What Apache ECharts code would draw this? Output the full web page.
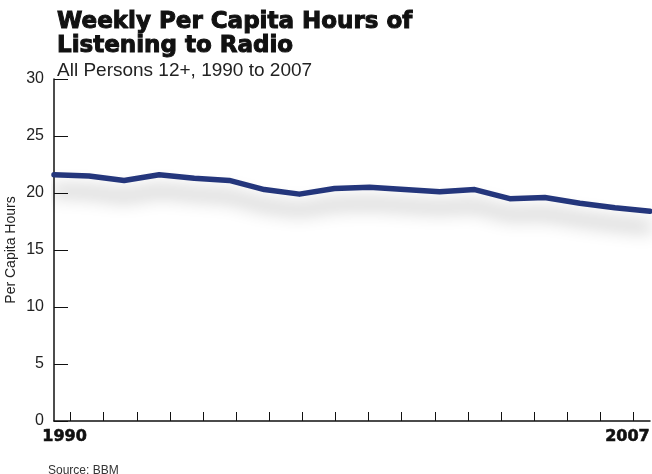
<!DOCTYPE html>
<html>
<head>
<meta charset="utf-8">
<script src="https://cdn.jsdelivr.net/npm/echarts@6/dist/echarts.min.js"></script>
<style>
  html, body { margin: 0; padding: 0; background: #fff; }
  #chart { width: 652px; height: 474px; }
</style>
</head>
<body>
<div id="chart"></div>
<script>
// Weekly per capita radio listening hours, all persons 12+
const years = ['1990','1991','1992','1993','1994','1995','1996','1997','1998',
               '1999','2000','2001','2002','2003','2004','2005','2006','2007'];
const hours = [21.6, 21.5, 21.1, 21.6, 21.3, 21.1, 20.3, 19.9, 20.4,
               20.5, 20.3, 20.1, 20.3, 19.5, 19.6, 19.1, 18.7, 18.4];
const yTicks = { min: 0, max: 30, step: 5 };
const shownYearLabels = ['1990', '2007'];

const chart = echarts.init(document.getElementById('chart'));

chart.setOption({
  backgroundColor: '#ffffff',
  animation: false,
  title: [
    {
      text: 'Weekly Per Capita Hours of\nListening to Radio',
      left: 52, top: 5,
      textStyle: {
        fontFamily: 'DejaVu Sans', fontWeight: 'bold',
        fontSize: 23, lineHeight: 24, color: '#111',
        textBorderColor: '#111', textBorderWidth: 1
      }
    },
    {
      text: 'All Persons 12+, 1990 to 2007',
      left: 52, top: 56,
      textStyle: {
        fontFamily: 'Liberation Sans', fontWeight: 'normal',
        fontSize: 19, color: '#222'
      }
    },
    {
      text: 'Source: BBM',
      left: 43, top: 460,
      textStyle: {
        fontFamily: 'Liberation Sans', fontWeight: 'normal',
        fontSize: 12, color: '#333'
      }
    }
  ],
  grid: { left: 54, right: 2, top: 79, bottom: 53, containLabel: false, outerBoundsMode: 'none' },
  xAxis: [
    {
      // positions the data points edge to edge
      type: 'category', data: years, boundaryGap: false, show: false
    },
    {
      // year ticks sit at the centre of each yearly band
      type: 'category', data: years, boundaryGap: true, position: 'bottom',
      axisLine: { show: true, onZero: false, lineStyle: { color: '#111', width: 1.5 } },
      axisTick: { show: true, inside: true, length: 9, alignWithLabel: true, interval: 0,
                  lineStyle: { color: '#111', width: 1 } },
      axisLabel: {
        show: true,
        interval: 0,
        formatter: v => shownYearLabels.includes(v) ? v : '',
        fontFamily: 'DejaVu Sans', fontWeight: 'bold', fontSize: 16,
        color: '#111', textBorderColor: '#111', textBorderWidth: 0.6,
        margin: 8, padding: [0, 12, 0, 0]
      },
      splitLine: { show: false }
    }
  ],
  yAxis: {
    type: 'value', min: yTicks.min, max: yTicks.max, interval: yTicks.step,
    name: 'Per Capita Hours', nameLocation: 'middle', nameGap: 36, nameRotate: 90,
    nameMoveOverlap: false,
    nameTextStyle: { fontFamily: 'Liberation Sans', fontSize: 14, color: '#222' },
    axisLine: { show: true, lineStyle: { color: '#111', width: 1.5 } },
    axisTick: { show: true, inside: true, length: 14, lineStyle: { color: '#111', width: 1 } },
    axisLabel: { fontFamily: 'Liberation Sans', fontSize: 16, color: '#222', margin: 10 },
    splitLine: { show: false }
  },
  series: [{
    type: 'line',
    xAxisIndex: 0,
    data: hours,
    symbol: 'none',
    lineStyle: {
      color: '#24367c', width: 5.5, cap: 'round', join: 'round',
      shadowColor: 'rgba(0,0,0,0.38)', shadowBlur: 18, shadowOffsetY: 16
    }
  }]
});
</script>
</body>
</html>
